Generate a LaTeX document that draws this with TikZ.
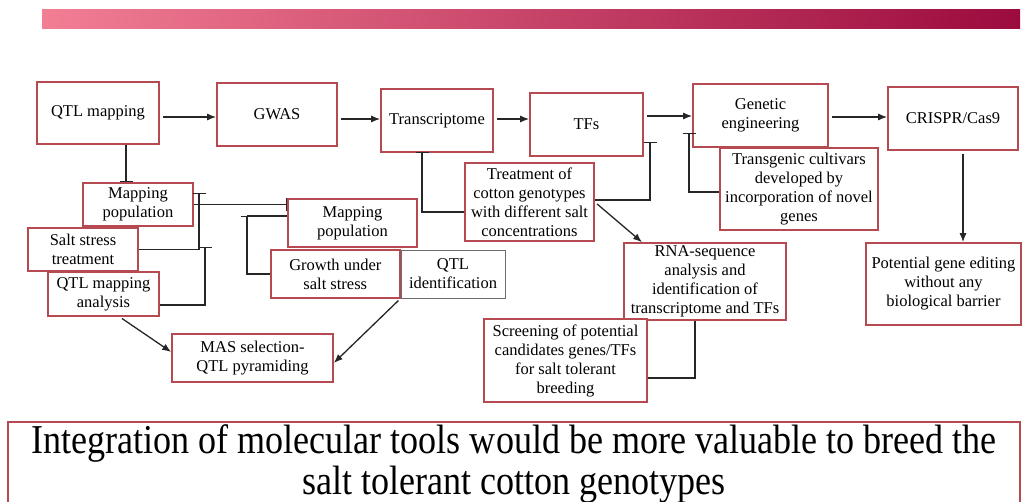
\documentclass[tikz,border=0pt]{standalone}
\usepackage{fontspec}
\setmainfont{Liberation Serif}
\newfontfamily\narrowserif[FakeStretch=0.88]{Liberation Serif}
\usetikzlibrary{arrows.meta,positioning}
\definecolor{boxred}{HTML}{B54A50}
\definecolor{wire}{HTML}{262626}
\definecolor{barpink}{HTML}{F27E94}
\definecolor{barwine}{HTML}{9C0B3E}
\definecolor{idgray}{HTML}{6B6B6B}

\begin{document}
\begin{tikzpicture}[x=1pt,y=-1pt,
  box/.style={draw=boxred,line width=1.6pt,fill=white,align=center,inner sep=1pt,font=\fontsize{16.5}{19}\selectfont},
  flow/.style={-{Latex[length=9pt,width=7pt]},shorten <=3pt,line width=1.3pt,draw=wire},
  link/.style={line width=1.3pt,draw=wire},
  tbar/.style={-{Bar[width=13pt]},line width=1.3pt,draw=wire}
]
\useasboundingbox (0,0) rectangle (1023,502);
\shade[left color=barpink,right color=barwine] (42,10) rectangle (1020,29);

% main row
\node[box,minimum width=122pt,minimum height=62pt] (qtlmap) at (98,113) {QTL mapping};
\node[box,minimum width=120pt,minimum height=63pt] (gwas) at (277,114.5) {GWAS};
\node[box,minimum width=112pt,minimum height=63pt] (trans) at (437,120.5) {Transcriptome};
\node[box,minimum width=113pt,minimum height=63pt] (tfs) at (586.5,124.5) {TFs};
\node[box,minimum width=135pt,minimum height=63pt] (geneng) at (760.5,115.5) {Genetic\\engineering};
\node[box,minimum width=130pt,minimum height=63pt] (crispr) at (953,118.5) {CRISPR/Cas9};

% QTL branch
\node[box,minimum width=110pt,minimum height=43pt] (mappop1) at (138,204.5) {Mapping\\population};
\node[box,minimum width=110pt,minimum height=43pt] (salt) at (83,249.5) {Salt stress\\treatment};
\node[box,minimum width=111pt,minimum height=44pt] (qtlana) at (103.5,294) {QTL mapping\\analysis};
\node[box,minimum width=129pt,minimum height=48pt] (mappop2) at (352.5,223) {Mapping\\population};
\node[box,draw=idgray,line width=0.8pt,minimum width=104pt,minimum height=48pt] (qtlid) at (453,274) {QTL\\identification};
\node[box,minimum width=129pt,minimum height=48pt,left=0pt of qtlid] (growth) {Growth under\\salt stress};
\node[box,minimum width=161pt,minimum height=48pt] (mas) at (252.5,358) {MAS selection-\\QTL pyramiding};

% transcriptome branch
\node[box,minimum width=129pt,minimum height=78pt] (treat) at (529.5,202) {Treatment of\\cotton genotypes\\with different salt\\concentrations};
\node[box,minimum width=162pt,minimum height=77pt] (rna) at (705,281.5) {RNA-sequence\\analysis and\\identification of\\transcriptome and TFs};
\node[box,minimum width=163pt,minimum height=83pt] (screen) at (565.5,360.5) {Screening of potential\\candidates genes/TFs\\for salt tolerant\\breeding};

% engineering branch
\node[box,minimum width=158pt,minimum height=82pt] (transgenic) at (799,189) {Transgenic cultivars\\developed by\\incorporation of novel\\genes};
\node[box,minimum width=155pt,minimum height=82pt] (potential) at (943.5,284) {Potential gene editing\\without any\\biological barrier};

\node[box,line width=1.2pt,minimum width=1012pt,minimum height=83pt,font=\narrowserif\fontsize{41}{41}\selectfont] (summary) at (514,463.5) {Integration of molecular tools would be more valuable to breed the\\salt tolerant cotton genotypes};

\coordinate (saltbar) at (199,193);
\coordinate (anabar) at (205,247);
\coordinate (growbar) at (247,216);
\coordinate (transbar) at (422,152);
\coordinate (tfsbar) at (650,142);
\coordinate (genbar) at (689,133);

\draw[flow] (qtlmap.east |- 0,117) -- (gwas.west |- 0,117);
\draw[flow] (gwas.east |- 0,119) -- (trans.west |- 0,119);
\draw[flow] (trans.east |- 0,119) -- (tfs.west |- 0,119);
\draw[flow] (tfs.east |- 0,116) -- (geneng.west |- 0,116);
\draw[flow] (geneng.east |- 0,117) -- (crispr.west |- 0,117);
\draw[flow] (crispr.south -| 963,0) -- (potential.north -| 963,0);
\draw[flow] (treat.east) -- (rna.north -| 642,0);
\draw[flow] ([xshift=16pt]qtlana.south) -- ([yshift=6pt]mas.west);
\draw[flow] (qtlid.south west) -- ([yshift=-5pt]mas.east);

\draw[tbar] (qtlmap.south -| 126,0) -- (mappop1.north -| 126,0);
\draw[tbar] (mappop1.east) -- (mappop1.east -| mappop2.west);
\draw[tbar] (salt.east) -| (saltbar);
\draw[tbar] (qtlana.east |- 0,305) -| (anabar);
\draw[tbar] (growth.west) -| (growbar);
\draw[link] (growbar) -- (growbar -| mappop2.west);
\draw[tbar] (treat.west |- 0,212) -| (transbar);
\draw[tbar] (treat.east |- 0,200) -| (tfsbar);
\draw[tbar] (transgenic.west |- 0,192) -| (genbar);
\draw[link] (rna.south -| 695,0) |- (screen.east |- 0,378);
\end{tikzpicture}
\end{document}
